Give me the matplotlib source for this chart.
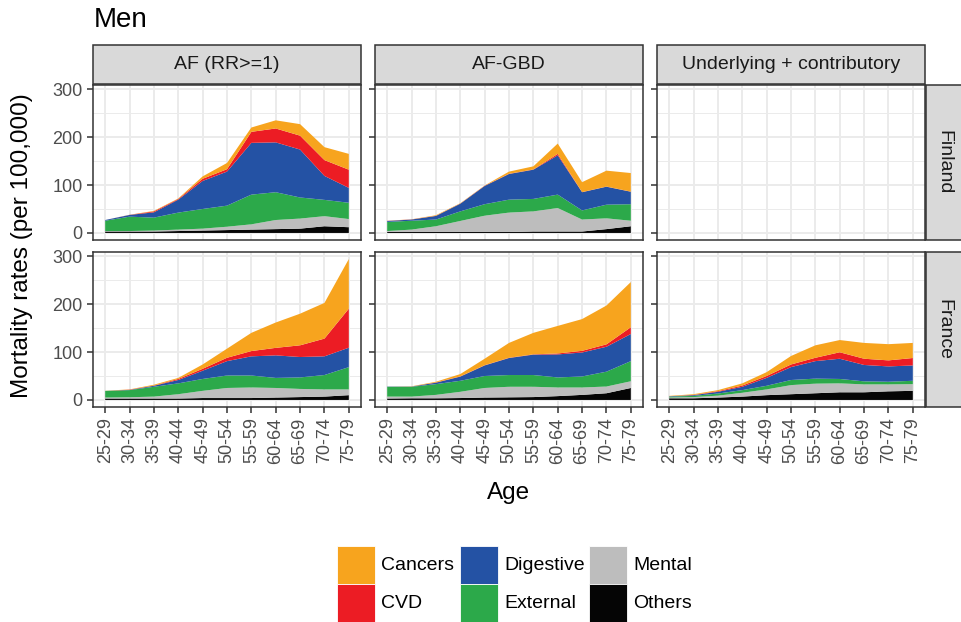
#!/usr/bin/env python3
"""Men: stacked mortality rates by age, cause and method (Finland / France)."""

import numpy as np
import matplotlib
matplotlib.use("Agg")
import matplotlib.pyplot as plt
from matplotlib.patches import Rectangle

plt.rcParams['font.family'] = ['Liberation Sans', 'DejaVu Sans']

# ---- data -------------------------------------------------------------
ages = ['25-29', '30-34', '35-39', '40-44', '45-49', '50-54',
        '55-59', '60-64', '65-69', '70-74', '75-79']
causes = ['Others', 'Mental', 'External', 'Digestive', 'CVD', 'Cancers']
cause_colors = ['#050505', '#BDBDBD', '#2CA94A', '#2452A4', '#EC1C24', '#F7A41E']
methods = ['AF (RR>=1)', 'AF-GBD', 'Underlying + contributory']
countries = ['Finland', 'France']

# Finland, AF (RR>=1)
fi_af_others = [3, 3, 3, 4, 5, 6, 7, 8, 9, 14, 12]
fi_af_mental = [1, 1, 2, 3, 4, 7, 11, 19, 21, 21, 17]
fi_af_external = [21.5, 30, 27, 35.5, 41, 44, 62, 58, 44, 34, 34]
fi_af_digestive = [1.5, 3.6, 11, 27, 58.5, 71, 108, 104, 100, 50, 31]
fi_af_cvd = [0, 0.2, 2, 1.5, 4.5, 5, 23, 29, 29, 33, 38]
fi_af_cancers = [0, 0.2, 1, 1, 5, 13, 9, 17, 24, 27, 33]

# Finland, AF-GBD
fi_gbd_others = [2, 2, 2, 2, 2, 2, 3, 3, 3, 8, 14]
fi_gbd_mental = [2, 5, 12, 23, 34, 40.5, 42, 49, 25, 22.5, 11.5]
fi_gbd_external = [19, 18.5, 14, 20, 24, 27, 26, 28, 19, 28.5, 34.5]
fi_gbd_digestive = [2, 2.5, 7.5, 16, 38, 53.5, 61, 82, 38, 37.5, 26]
fi_gbd_cvd = [0.3, 0.3, 0.3, 0.3, 0.5, 0.5, 0.5, 3, 0.3, 0.3, 0.3]
fi_gbd_cancers = [0.2, 0.2, 1.2, 0.7, 0.5, 4.5, 6.5, 21.5, 20.7, 33.2, 38.7]

# France, AF (RR>=1)
fr_af_others = [3, 3, 3, 3, 4, 4, 4, 5, 6, 7, 10]
fr_af_mental = [2, 2.6, 4, 9, 15, 21, 22, 20, 17, 15, 12]
fr_af_external = [14, 14.9, 20.5, 22.6, 24.8, 26, 25, 21, 24, 30, 46.5]
fr_af_digestive = [0, 0.5, 2.1, 7, 17.2, 30, 40, 47, 42.6, 39, 40.5]
fr_af_cvd = [0, 0.5, 0.4, 2.2, 4, 7, 11, 15.7, 24.4, 37, 81.5]
fr_af_cancers = [0.2, 0.5, 1.8, 2.2, 9, 19, 38, 52.9, 66, 74.5, 103.5]

# France, AF-GBD
fr_gbd_others = [3, 3.5, 3.5, 4, 5, 5.5, 6, 8, 10.6, 14, 25]
fr_gbd_mental = [4, 3.5, 7.1, 13, 20, 22, 21.5, 18, 15.4, 14, 14]
fr_gbd_external = [20.5, 20.5, 22.4, 23, 25, 24.5, 24.5, 21, 23, 31, 42]
fr_gbd_digestive = [0.5, 0.5, 3, 8.7, 22, 35.5, 42.6, 48, 50, 52, 56.6]
fr_gbd_cvd = [0, 0, 0.5, 0.5, 0.5, 0.5, 0.6, 2, 3.5, 5, 14.1]
fr_gbd_cancers = [0, 0.5, 1.5, 4.8, 13.5, 31, 44.8, 57.5, 66.2, 81, 94.3]

# France, Underlying + contributory
fr_uc_others = [3.5, 3.5, 5, 7, 10, 12, 14, 16, 16, 18, 19]
fr_uc_mental = [1.5, 2.5, 4, 8, 12, 19, 20, 18.6, 16.5, 14.5, 14]
fr_uc_external = [2, 2.5, 4.4, 5.5, 7.6, 10.6, 10.5, 9.2, 6.3, 5.5, 7]
fr_uc_digestive = [0.8, 1.5, 3.6, 7, 16.4, 26.9, 36.5, 42.2, 34.2, 32, 32]
fr_uc_cvd = [0, 0.5, 1.3, 2.5, 4, 5.5, 7, 13.5, 13, 12.6, 15.5]
fr_uc_cancers = [0.7, 1.5, 2.2, 4.6, 8, 17.7, 26, 25.5, 33, 33.8, 31.5]

y_ticks = [0, 100, 200, 300]

# (row, col) -> stacked series, bottom to top; Finland has no U+C data
panels = {
    (0, 0): [fi_af_others, fi_af_mental, fi_af_external, fi_af_digestive, fi_af_cvd, fi_af_cancers],
    (0, 1): [fi_gbd_others, fi_gbd_mental, fi_gbd_external, fi_gbd_digestive, fi_gbd_cvd, fi_gbd_cancers],
    (0, 2): None,
    (1, 0): [fr_af_others, fr_af_mental, fr_af_external, fr_af_digestive, fr_af_cvd, fr_af_cancers],
    (1, 1): [fr_gbd_others, fr_gbd_mental, fr_gbd_external, fr_gbd_digestive, fr_gbd_cvd, fr_gbd_cancers],
    (1, 2): [fr_uc_others, fr_uc_mental, fr_uc_external, fr_uc_digestive, fr_uc_cvd, fr_uc_cancers],
}

# ---- layout (pixels) --------------------------------------------------
W, H = 962, 622
fig = plt.figure(figsize=(W / 100, H / 100), dpi=100)


def fx(px):
    return px / W


def fy(py):
    return 1 - py / H


col_x = [93, 375, 657]
col_w = 268
row_top = [85, 252]
row_h = 155
strip_top, strip_h = 45, 39
rstrip_x, rstrip_w = 926, 45   # runs off the right edge, like the original

edge = '#333333'
grid_c = '#EBEBEB'
strip_fill = '#D9D9D9'
tick_c = '#4D4D4D'

x = np.arange(len(ages))
ymax_all = max(np.sum(v, axis=0).max() for v in panels.values() if v is not None)
ylim = (-0.05 * ymax_all, 1.05 * ymax_all)

for (r, c), series in panels.items():
    ax = fig.add_axes([fx(col_x[c]), fy(row_top[r] + row_h), fx(col_w), row_h / H])
    ax.set_xlim(-0.5, len(ages) - 0.5)
    ax.set_ylim(*ylim)
    for yy in [50, 150, 250]:
        ax.axhline(yy, color=grid_c, lw=0.7, zorder=0)
    for yy in y_ticks:
        ax.axhline(yy, color=grid_c, lw=1.4, zorder=0)
    for xx in x:
        ax.axvline(xx, color=grid_c, lw=1.4, zorder=0)
    if series is not None:
        ax.stackplot(x, *series, colors=cause_colors, lw=0, zorder=2)
    for s in ax.spines.values():
        s.set_color(edge)
        s.set_linewidth(1.1)
    ax.set_yticks(y_ticks)
    ax.set_xticks(x)
    ax.tick_params(colors=edge, length=4, width=1.1)
    if c == 0:
        ax.set_yticklabels([str(t) for t in y_ticks], fontsize=13, color=tick_c)
    else:
        ax.set_yticklabels([])
    if r == 1:
        ax.set_xticklabels(ages, rotation=90, fontsize=13, color=tick_c)
    else:
        ax.set_xticklabels([])
        ax.tick_params(axis='x', length=0)

# column strips
for c, name in enumerate(methods):
    fig.patches.append(Rectangle((fx(col_x[c]), fy(strip_top + strip_h)), fx(col_w), strip_h / H,
                                 transform=fig.transFigure, facecolor=strip_fill,
                                 edgecolor=edge, lw=1.1))
    fig.text(fx(col_x[c] + col_w / 2), fy(strip_top + strip_h / 2), name,
             ha='center', va='center', fontsize=14, color='#1A1A1A')

# row strips
for r, name in enumerate(countries):
    fig.patches.append(Rectangle((fx(rstrip_x), fy(row_top[r] + row_h)), fx(rstrip_w), row_h / H,
                                 transform=fig.transFigure, facecolor=strip_fill,
                                 edgecolor=edge, lw=1.1))
    fig.text(fx(rstrip_x + 18), fy(row_top[r] + row_h / 2), name,
             ha='center', va='center', rotation=270, fontsize=14, color='#1A1A1A')

# titles
fig.text(fx(94), fy(20), 'Men', ha='left', va='center', fontsize=20)
fig.text(fx(22), fy(246), 'Mortality rates (per 100,000)', ha='center', va='center',
         rotation=90, fontsize=17.5)
fig.text(fx(509), fy(493), 'Age', ha='center', va='center', fontsize=17.5)

# legend (3 columns x 2 rows, ggplot order)
legend_order = ['Cancers', 'CVD', 'Digestive', 'External', 'Mental', 'Others']
key_x = [337, 460, 589]
key_y = [546, 584]
key_s = 38
for i, name in enumerate(legend_order):
    col, row = divmod(i, 2)
    color = cause_colors[causes.index(name)]
    fig.patches.append(Rectangle((fx(key_x[col]), fy(key_y[row] + key_s)), fx(key_s), key_s / H,
                                 transform=fig.transFigure, facecolor=color,
                                 edgecolor='white', lw=0.6))
    fig.text(fx(key_x[col] + key_s + 6), fy(key_y[row] + key_s / 2), name,
             ha='left', va='center', fontsize=14)

fig.savefig('out.png', dpi=100)
